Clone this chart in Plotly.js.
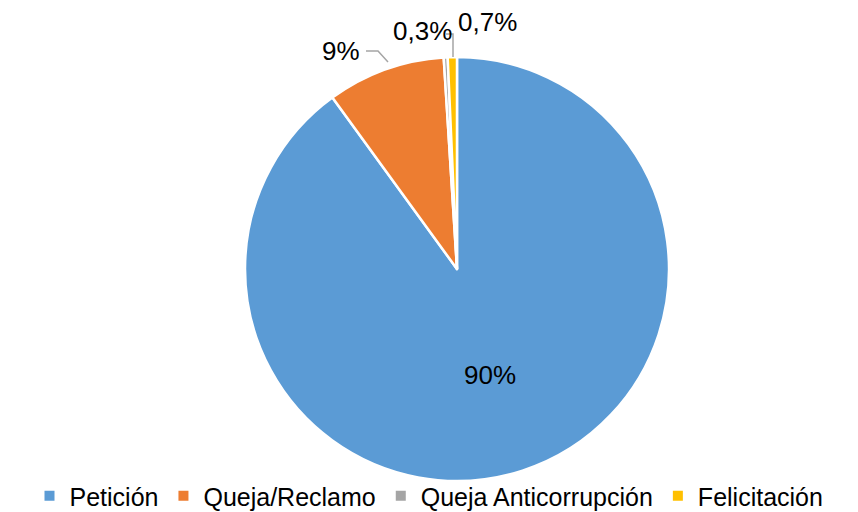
<!DOCTYPE html>
<html>
<head>
<meta charset="utf-8">
<script src="https://cdn.plot.ly/plotly-3.0.1.min.js"></script>
<style>html,body{margin:0;padding:0;background:#fff;}#chart{width:858px;height:512px;}</style>
</head>
<body>
<div id="chart"></div>
<script>
const categories = ["Petición", "Queja/Reclamo", "Queja Anticorrupción", "Felicitación"];
const values = [90, 9, 0.3, 0.7];
const valueLabels = ["90%", "9%", "0,3%", "0,7%"];
const colors = ["#5B9BD5", "#ED7D31", "#A5A5A5", "#FFC000"];

const W = 858, H = 512, M = {l: 56, r: 0, t: 57, b: 31, autoexpand: false};
const PW = W - M.l - M.r, PH = H - M.t - M.b;
const px = x => (x - M.l) / PW;
const py = y => (H - M.b - y) / PH;
const font = {family: "Liberation Sans, Arial, sans-serif", size: 26, color: "#000"};
const legendFont = {family: "Liberation Sans, Arial, sans-serif", size: 25, color: "#000"};

const trace = {
  type: "pie",
  labels: categories,
  values: values,
  text: valueLabels,
  textinfo: "text",
  textposition: "none",
  sort: false,
  direction: "clockwise",
  rotation: 0,
  marker: {colors: colors, line: {color: "#fff", width: 2.5}},
  hoverinfo: "label+percent"
};

const annotations = [
  {text: valueLabels[0], x: px(490), y: py(375)},
  {text: valueLabels[1], x: px(341), y: py(51)},
  {text: valueLabels[2], x: px(422), y: py(31)},
  {text: valueLabels[3], x: px(487), y: py(22)}
].map(a => Object.assign({xref: "paper", yref: "paper", showarrow: false, font: font, xanchor: "center", yanchor: "middle"}, a));

const lineStyle = {color: "#A5A5A5", width: 1.5};
const shapes = [
  {type: "path", xref: "paper", yref: "paper", line: lineStyle,
   path: `M ${px(366)} ${py(51)} L ${px(378)} ${py(51)} L ${px(388)} ${py(62)}`},
  {type: "path", xref: "paper", yref: "paper", line: lineStyle,
   path: `M ${px(446)} ${py(34)} L ${px(453)} ${py(34)} L ${px(453)} ${py(57)}`}
];

const layout = {
  width: W, height: H,
  margin: M,
  paper_bgcolor: "#fff",
  showlegend: true,
  legend: {orientation: "h", x: 0.5, xanchor: "center", xref: "container", y: 16 / H, yref: "container", yanchor: "middle",
           bgcolor: "rgba(0,0,0,0)", font: legendFont, traceorder: "normal", itemwidth: 30, itemsizing: "constant"},
  annotations: annotations,
  shapes: shapes
};

Plotly.newPlot("chart", [trace], layout, {displayModeBar: false});
</script>
</body>
</html>
